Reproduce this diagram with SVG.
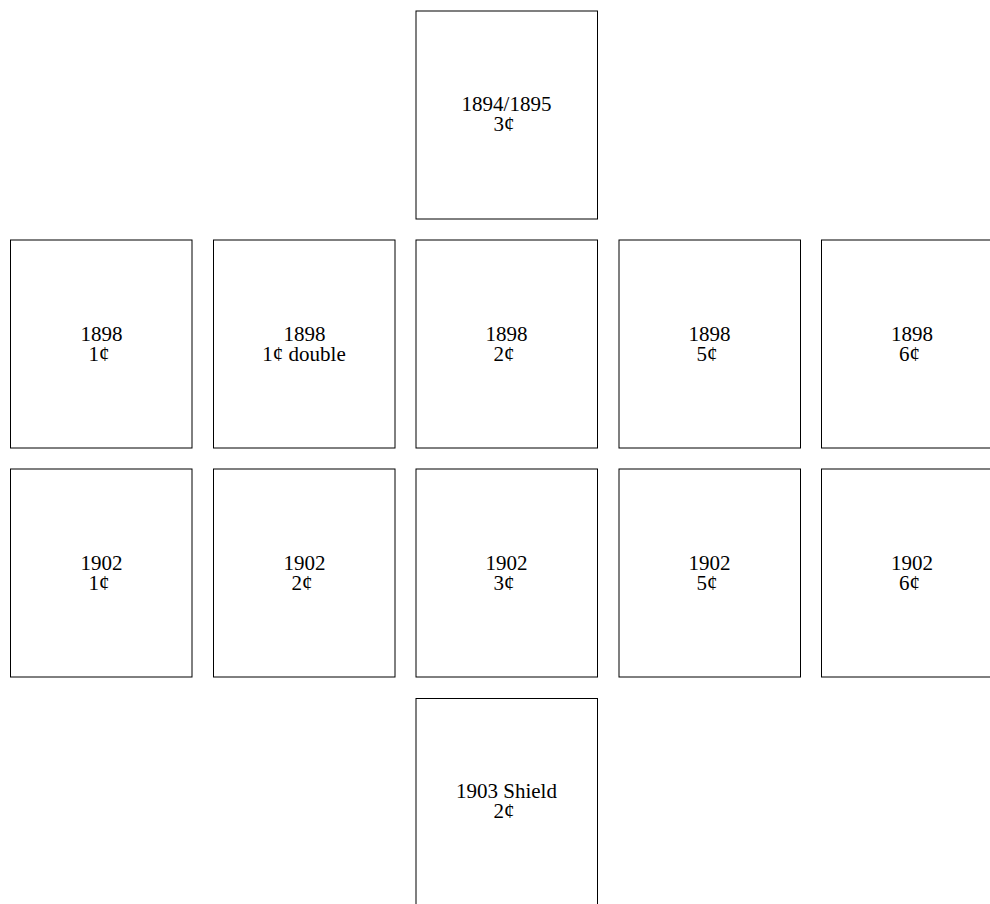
<svg xmlns="http://www.w3.org/2000/svg" width="990" height="904" viewBox="0 0 990 904">
<style>
.box{fill:#fff;stroke:#000;stroke-width:1}
.t{font-family:"Liberation Serif","Times New Roman",serif;font-size:21px;fill:#000;text-anchor:middle}
</style>
<rect width="990" height="904" fill="#fff"/>
<g id="n1894-3">
<rect class="box" x="416" y="11" width="181.5" height="208"/>
<text class="t"><tspan x="506.5" y="111">1894/1895</tspan><tspan x="504" dy="20">3¢</tspan></text>
</g>
<g id="n1898-1">
<rect class="box" x="10.5" y="240" width="181.5" height="208"/>
<text class="t"><tspan x="101.5" y="340.5">1898</tspan><tspan x="99" dy="20">1¢</tspan></text>
</g>
<g id="n1898-1d">
<rect class="box" x="213.5" y="240" width="181.5" height="208"/>
<text class="t"><tspan x="304.5" y="340.5">1898</tspan><tspan x="304" dy="20">1¢ double</tspan></text>
</g>
<g id="n1898-2">
<rect class="box" x="416" y="240" width="181.5" height="208"/>
<text class="t"><tspan x="506.5" y="340.5">1898</tspan><tspan x="504" dy="20">2¢</tspan></text>
</g>
<g id="n1898-5">
<rect class="box" x="619" y="240" width="181.5" height="208"/>
<text class="t"><tspan x="709.5" y="340.5">1898</tspan><tspan x="707" dy="20">5¢</tspan></text>
</g>
<g id="n1898-6">
<rect class="box" x="821.5" y="240" width="181.5" height="208"/>
<text class="t"><tspan x="912" y="340.5">1898</tspan><tspan x="909.5" dy="20">6¢</tspan></text>
</g>
<g id="n1902-1">
<rect class="box" x="10.5" y="469" width="181.5" height="208"/>
<text class="t"><tspan x="101.5" y="569.5">1902</tspan><tspan x="99" dy="20">1¢</tspan></text>
</g>
<g id="n1902-2">
<rect class="box" x="213.5" y="469" width="181.5" height="208"/>
<text class="t"><tspan x="304.5" y="569.5">1902</tspan><tspan x="302" dy="20">2¢</tspan></text>
</g>
<g id="n1902-3">
<rect class="box" x="416" y="469" width="181.5" height="208"/>
<text class="t"><tspan x="506.5" y="569.5">1902</tspan><tspan x="504" dy="20">3¢</tspan></text>
</g>
<g id="n1902-5">
<rect class="box" x="619" y="469" width="181.5" height="208"/>
<text class="t"><tspan x="709.5" y="569.5">1902</tspan><tspan x="707" dy="20">5¢</tspan></text>
</g>
<g id="n1902-6">
<rect class="box" x="821.5" y="469" width="181.5" height="208"/>
<text class="t"><tspan x="912" y="569.5">1902</tspan><tspan x="909.5" dy="20">6¢</tspan></text>
</g>
<g id="n1903-2">
<rect class="box" x="416" y="698.5" width="181.5" height="208"/>
<text class="t"><tspan x="506.5" y="797.5">1903 Shield</tspan><tspan x="504" dy="20">2¢</tspan></text>
</g>
<g id="connectors"></g>
</svg>
